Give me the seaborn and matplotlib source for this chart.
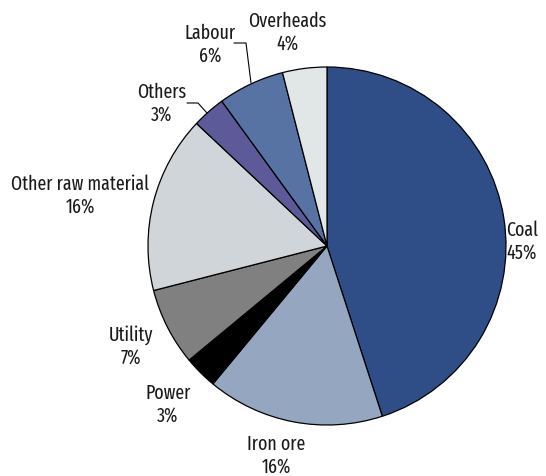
import matplotlib
matplotlib.use("Agg")
import matplotlib.pyplot as plt
import seaborn as sns

sns.set_theme(style="white")
plt.rcParams["font.family"] = ["Fira Sans Extra Condensed", "DejaVu Sans"]

categories = ["Coal", "Iron ore", "Power", "Utility", "Other raw material",
              "Others", "Labour", "Overheads"]
shares = [45, 16, 3, 7, 16, 3, 6, 4]
colors = ["#2F4E88", "#95A6C0", "#000000", "#808080", "#CFD5D9",
          "#5C5A98", "#5673A4", "#E1E6E7"]

# label anchor points (pixel space, y measured from top)
label_xy = [(522, 242), (276, 456), (168, 405), (131, 346), (80, 196),
            (162, 104), (210, 45), (287, 33)]

H = 476
fig = plt.figure(figsize=(5.46, 4.76), dpi=100)
ax = fig.add_axes([0, 0, 1, 1])

cx, cy, r = 327, H - 246, 179
ax.pie(shares, colors=colors, startangle=90, counterclock=False,
       center=(cx, cy), radius=r,
       wedgeprops=dict(edgecolor="black", linewidth=0.9), frame=True)
ax.set_xlim(0, 546)
ax.set_ylim(0, H)
ax.set_aspect("equal")
ax.axis("off")

for name, val, (x, y) in zip(categories, shares, label_xy):
    ax.text(x, H - y, f"{name}\n{val}%", ha="center", va="center",
            fontsize=14, fontweight="normal", color="#1a1a1a", linespacing=1.2)

# leader lines for the narrow slices at the top-left
ax.plot([251, 246, 234], [H - 83, H - 43, H - 43], color="black", lw=0.8)
ax.plot([187, 198, 207], [H - 103, H - 103, H - 113], color="black", lw=0.8)

fig.savefig("out.png", dpi=100)
